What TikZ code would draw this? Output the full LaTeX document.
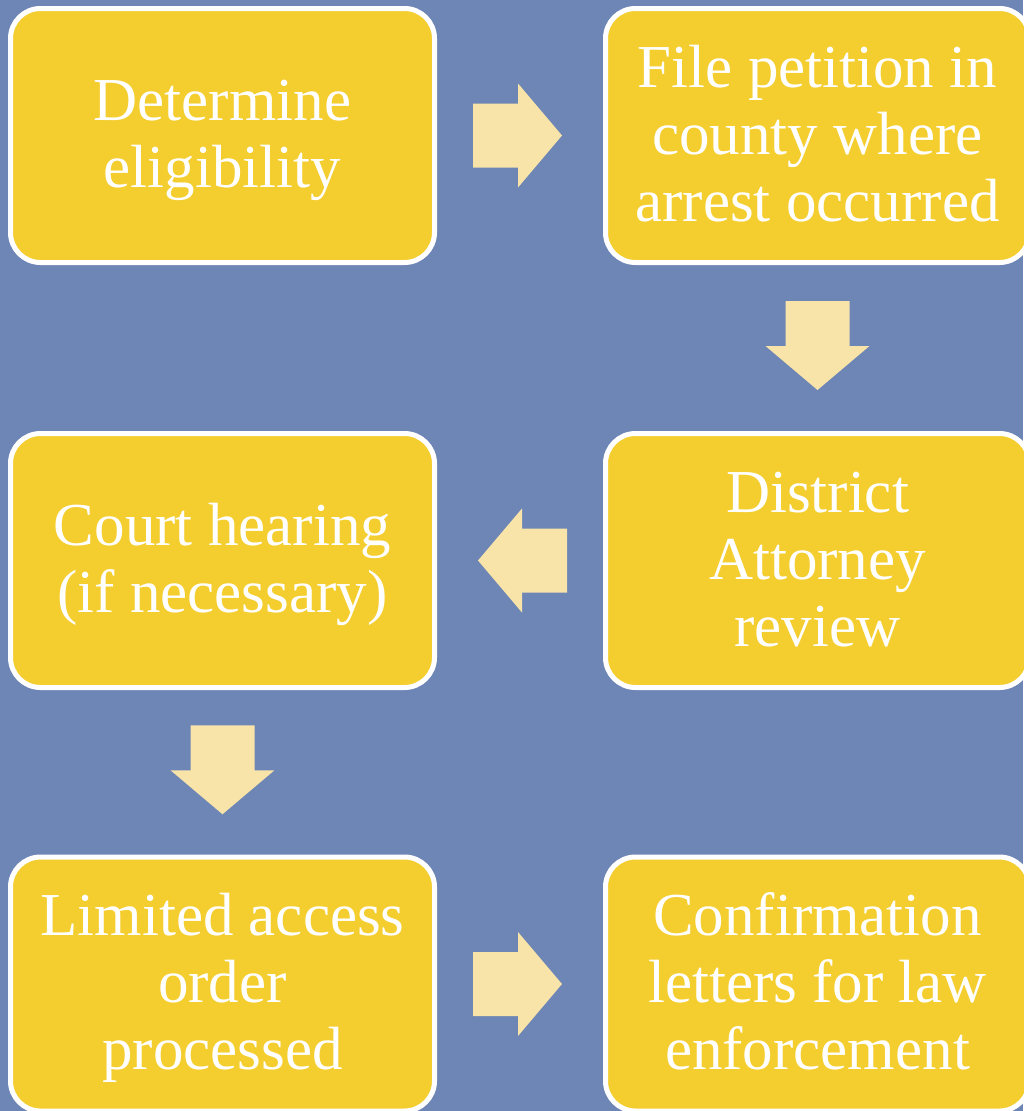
\documentclass[tikz,border=0pt]{standalone}
\usepackage{fontspec}
\setmainfont{Liberation Serif}
\usetikzlibrary{calc}
\definecolor{bgblue}{HTML}{6E86B5}
\definecolor{boxyellow}{HTML}{F4CD2F}
\definecolor{arrowcream}{HTML}{F8E3A9}
\newcommand{\boxlines}[1]{\setbox\strutbox\hbox{\vrule height52pt depth15pt width0pt}%
  \begin{tabular}{@{}c@{}}#1\end{tabular}}
\tikzset{
  stepbox/.style={rectangle, rounded corners=30pt, draw=white, line width=5pt,
    fill=boxyellow, minimum width=424pt, minimum height=254pt, inner sep=0pt,
    text=white, font=\fontsize{61}{67}\selectfont},
  blockarrow/.pic={\fill[arrowcream] (-44.5,-32) -- (0.5,-32) -- (0.5,-52) -- (44.5,0)
     -- (0.5,52) -- (0.5,32) -- (-44.5,32) -- cycle;}
}
\begin{document}
\begin{tikzpicture}[x=1pt,y=-1pt]
\useasboundingbox (0,0) rectangle (1023,1111);
\fill[bgblue] (0,0) rectangle (1023,1111);
\node[stepbox] (n1) at (222.5,135.5) {\boxlines{Determine\\eligibility}};
\node[stepbox] (n2) at (817.5,135.5) {\boxlines{File petition in\\county where\\arrest occurred}};
\node[stepbox] (n3) at (817.5,560.5) {\boxlines{District\\Attorney\\review}};
\node[stepbox] (n4) at (222.5,560.5) {\boxlines{Court hearing\\(if necessary)}};
\node[stepbox] (n5) at (222.5,984) {\boxlines{Limited access\\order\\processed}};
\node[stepbox] (n6) at (817.5,984) {\boxlines{Confirmation\\letters for law\\enforcement}};
\coordinate (a1) at ($(n1.east)!0.5!(n2.west)+(-2.5,0)$);
\coordinate (a2) at ($(n2.south)!0.5!(n3.north)+(0,-2.5)$);
\coordinate (a3) at ($(n3.west)!0.5!(n4.east)+(2.5,0)$);
\coordinate (a4) at ($(n4.south)!0.5!(n5.north)+(0,-2.5)$);
\coordinate (a5) at ($(n5.east)!0.5!(n6.west)+(-2.5,0)$);
\pic at (a1) {blockarrow};
\pic[rotate=-90] at (a2) {blockarrow};
\pic[rotate=180] at (a3) {blockarrow};
\pic[rotate=-90] at (a4) {blockarrow};
\pic at (a5) {blockarrow};
\end{tikzpicture}
\end{document}
